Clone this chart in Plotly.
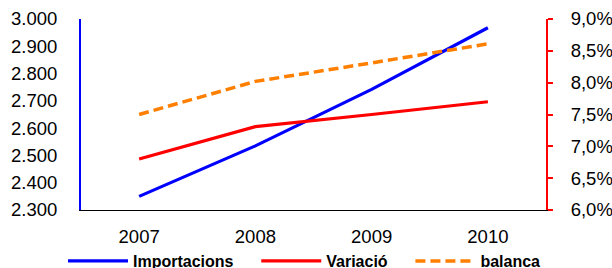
import plotly.graph_objects as go

years = ["2007", "2008", "2009", "2010"]
importacions = [2350, 2535, 2742, 2968]
variacio = [6.80, 7.31, 7.50, 7.70]
balanca = [7.50, 8.02, 8.31, 8.61]
series_names = ["Importacions", "Variació", "balanca"]

left_ticks = [2300, 2400, 2500, 2600, 2700, 2800, 2900, 3000]
right_ticks = [6.0, 6.5, 7.0, 7.5, 8.0, 8.5, 9.0]
right_labels = [f"{v:.1f}".replace(".", ",") + "%" for v in right_ticks]
left_labels = [f"{v:,}".replace(",", ".") for v in left_ticks]

FONT = "Liberation Sans, Arial, sans-serif"
PAD = "\u00a0" * 4  # spacing between legend entries

W, H = 612, 268

fig = go.Figure()
fig.add_trace(go.Scatter(x=years, y=importacions, name=series_names[0] + PAD, mode="lines",
                         line=dict(color="#0000FF", width=3.2), yaxis="y"))
fig.add_trace(go.Scatter(x=years, y=variacio, name=series_names[1] + PAD, mode="lines",
                         line=dict(color="#FF0000", width=3.2), yaxis="y2"))
fig.add_trace(go.Scatter(x=years, y=balanca, name=series_names[2], mode="lines",
                         line=dict(color="#FF7F00", width=3.5, dash="10px,5px"), yaxis="y2"))

fig.update_layout(
    width=W, height=H,
    margin=dict(l=81, r=66, t=19, b=58, autoexpand=False),
    paper_bgcolor="white", plot_bgcolor="white",
    font=dict(family=FONT, size=18.5, color="black"),
    showlegend=True,
    legend=dict(orientation="h", x=-0.0387, xanchor="left",
                y=-0.267, yanchor="middle",
                font=dict(family=FONT, size=16, weight="bold", color="black"),
                itemwidth=60, tracegroupgap=0, bgcolor="rgba(0,0,0,0)"),
    xaxis=dict(type="category", range=[-0.5, 3.5], showline=True, linecolor="black",
               linewidth=1, showgrid=False, ticks="", ticklabelstandoff=10,
               tickfont=dict(size=18.5), zeroline=False, automargin=False),
    yaxis=dict(range=[2300, 3000], tickvals=left_ticks, ticktext=left_labels,
               showline=True, linecolor="#0000FF", linewidth=2, showgrid=False,
               ticks="", ticklabelstandoff=18, zeroline=False, tickfont=dict(size=18.5),
               automargin=False),
    yaxis2=dict(range=[6.0, 9.0], tickvals=right_ticks, ticktext=right_labels,
                overlaying="y", side="right", showline=True, linecolor="#FF0000",
                linewidth=2, ticks="outside", ticklen=5, tickcolor="#FF0000", tickwidth=1.5,
                ticklabelstandoff=14, showgrid=False, zeroline=False, tickfont=dict(size=18.5),
                automargin=False),
)

fig.write_html(
    "out.html",
    config={"displayModeBar": False},
    post_script="document.body.style.margin='0';document.body.style.overflow='hidden';",
)
